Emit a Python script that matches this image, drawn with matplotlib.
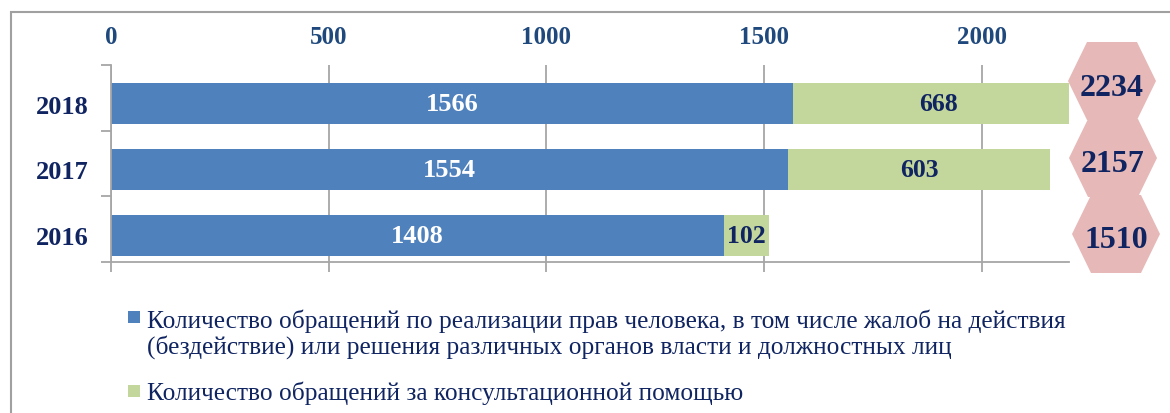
import matplotlib
matplotlib.use("Agg")
import matplotlib.pyplot as plt
from matplotlib.patches import Polygon, Rectangle

years = ["2016", "2017", "2018"]
rights_requests = [1408, 1554, 1566]
consult_requests = [102, 603, 668]
legend_labels = [
    "Количество обращений по реализации прав человека, в том числе жалоб на действия\n"
    "(бездействие) или решения различных органов власти и должностных лиц",
    "Количество обращений за консультационной помощью",
]
xticks = [0, 500, 1000, 1500, 2000]

BLUE = "#4f81bd"
GREEN = "#c3d69b"
PINK = "#e6b9b8"
NAVY = "#0f2461"
TICK_NAVY = "#1f497d"
GRAY = "#a6a6a6"

W, H = 1170, 414
plt.rcParams["font.family"] = ["Liberation Serif", "DejaVu Serif"]


def fx(x):
    return x / W


def fy(y):
    return 1 - y / H


fig = plt.figure(figsize=(W / 100, H / 100), dpi=100)

# outer frame (runs off the right and bottom of the picture)
fig.patches.append(Rectangle((fx(11), fy(500)), 2, fy(13) - fy(500), transform=fig.transFigure,
                             fill=False, edgecolor="#a0a0a0", lw=1.5))

ax = fig.add_axes([fx(111), fy(263), fx(1069) - fx(111), fy(66) - fy(263)])
pos = list(range(len(years)))
ax.barh(pos, rights_requests, height=0.625, color=BLUE, zorder=2)
ax.barh(pos, consult_requests, left=rights_requests, height=0.625, color=GREEN, zorder=2)

for p, a, b in zip(pos, rights_requests, consult_requests):
    ax.text(a / 2, p, str(a), ha="center", va="center", color="white",
            fontsize=19, fontweight="bold", zorder=3)
    ax.text(a + b / 2, p, str(b), ha="center", va="center", color=NAVY,
            fontsize=18.5, fontweight="bold", zorder=3)

ax.set_xlim(0, 2200)
ylo = -0.41
ax.set_ylim(ylo, ylo + 3)
ax.set_xticks(xticks)
ax.set_xticklabels([str(t) for t in xticks])
ax.tick_params(axis="x", bottom=True, top=False, labelbottom=False, labeltop=True,
               length=7, width=1.3, color=GRAY, pad=5, labelsize=18, labelcolor=TICK_NAVY)
for lab in ax.get_xticklabels():
    lab.set_fontweight("bold")
ax.set_yticks(pos)
ax.set_yticklabels(years, fontsize=19, fontweight="bold", color=NAVY)
ax.set_yticks([ylo + k for k in range(4)], minor=True)
ax.tick_params(axis="y", which="major", length=0, pad=16)
ax.tick_params(axis="y", which="minor", length=7, width=1.3, color=GRAY)
ax.grid(axis="x", color=GRAY, lw=1.3, zorder=0)
ax.set_axisbelow(True)
for s in ["top", "right"]:
    ax.spines[s].set_visible(False)
for s in ["left", "bottom"]:
    ax.spines[s].set_color(GRAY)
    ax.spines[s].set_linewidth(1.3)

# total hexagons
totals = [a + b for a, b in zip(rights_requests, consult_requests)]
hex_centers = {"2018": (1112, 82), "2017": (1113, 159), "2016": (1116, 235)}
for yr, tot in zip(years, totals):
    cx, cy = hex_centers[yr]
    verts = [(cx - 44, cy), (cx - 25, cy - 39), (cx + 25, cy - 39),
             (cx + 44, cy), (cx + 25, cy + 39), (cx - 25, cy + 39)]
    fig.patches.append(Polygon([(fx(x), fy(y)) for x, y in verts], closed=True,
                               transform=fig.transFigure, facecolor=PINK, edgecolor="none"))
    fig.text(fx(cx), fy(cy + 6), str(tot), ha="center", va="center", color=NAVY,
             fontsize=23, fontweight="bold")

# legend (baseline of the last line of each entry)
leg_rows = [(147, 354, 318), (147, 400, 392)]
for (lx, base, sq), lab, col in zip(leg_rows, legend_labels, [BLUE, GREEN]):
    fig.patches.append(Rectangle((fx(128), fy(sq + 6)), fx(12), fy(0) - fy(12),
                                 transform=fig.transFigure, facecolor=col, edgecolor="none"))
    fig.text(fx(lx), fy(base), lab, ha="left", va="baseline", color=NAVY,
             fontsize=18.3, linespacing=1.12)

fig.savefig("out.png", dpi=100)
